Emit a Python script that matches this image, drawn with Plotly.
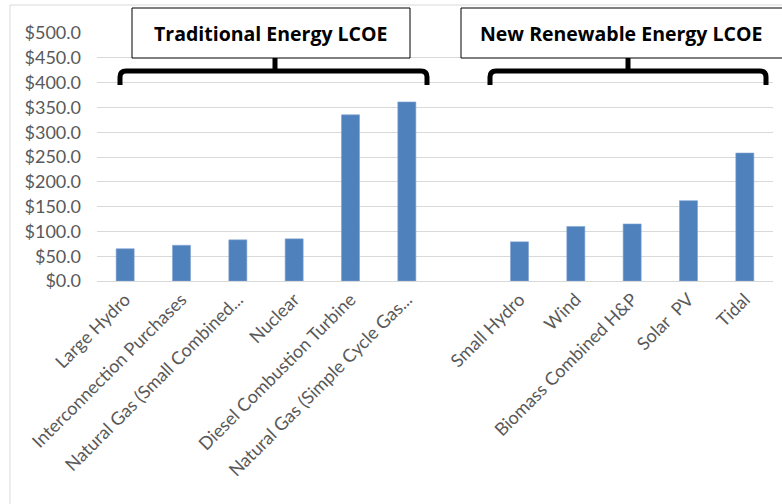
import plotly.graph_objects as go

categories = [
    "Large Hydro",
    "Interconnection Purchases",
    "Natural Gas (Small Combined...",
    "Nuclear",
    "Diesel Combustion Turbine",
    "Natural Gas (Simple Cycle Gas...",
    " ",
    "Small Hydro",
    "Wind",
    "Biomass Combined H&P",
    "Solar  PV",
    "Tidal",
]
lcoe_values = [65, 72, 83, 85, 335, 361, None, 79, 110, 115, 162, 258]
y_ticks = [0, 50, 100, 150, 200, 250, 300, 350, 400, 450, 500]
group_titles = ["Traditional Energy LCOE", "New Renewable Energy LCOE"]

W, H = 782, 504
L, R, T, B = 97, 9, 33, 223
pw, ph = W - L - R, H - T - B


def px_x(x):
    return (x - L) / pw


def px_y(y):
    return (H - B - y) / ph


fig = go.Figure()
fig.add_trace(go.Bar(
    x=categories, y=lcoe_values,
    marker=dict(color="#4f81bd", line=dict(color="#7fa3d1", width=0.6)),
    width=0.32,
))

font_family = "Lato, 'Open Sans', sans-serif"

fig.update_layout(
    width=W, height=H,
    margin=dict(l=L, r=R, t=T, b=B, autoexpand=False),
    paper_bgcolor="white", plot_bgcolor="white",
    showlegend=False,
    font=dict(family=font_family, color="#595959"),
    xaxis=dict(
        type="category", tickangle=-45, tickfont=dict(size=18, color="#595959"),
        showgrid=False, showline=True, linecolor="#d9d9d9", linewidth=1,
        ticks="", range=[-0.5, len(categories) - 0.5],
    ),
    yaxis=dict(
        range=[0, 500], tickvals=y_ticks,
        ticktext=["$" + f"{v:.1f}" for v in y_ticks],
        tickfont=dict(size=18, color="#595959"),
        showgrid=True, gridcolor="#d9d9d9", gridwidth=1,
        zeroline=False, showline=False, ticks="", ticklabelstandoff=15,
    ),
)

shapes = []
# outer chart border
shapes.append(dict(type="rect", xref="paper", yref="paper",
                   x0=px_x(10), x1=px_x(800), y0=px_y(5), y1=px_y(520),
                   line=dict(color="#d9d9d9", width=1), fillcolor="rgba(0,0,0,0)", layer="below"))

boxes = [(132, 410), (461, 795)]
brackets = [(120, 427, 275), (490, 766, 628)]
for (bx0, bx1), title in zip(boxes, group_titles):
    shapes.append(dict(type="rect", xref="paper", yref="paper",
                       x0=px_x(bx0), x1=px_x(bx1), y0=px_y(8), y1=px_y(58),
                       line=dict(color="black", width=1), fillcolor="white", layer="above"))
    cx = (bx0 + 781) / 2 if bx1 > 782 else (bx0 + bx1) / 2
    fig.add_annotation(xref="paper", yref="paper", x=px_x(cx), y=px_y(33),
                       text="<b>" + title + "</b>", showarrow=False,
                       font=dict(size=19.5, color="black", family="'Open Sans', Lato, sans-serif"),
                       xanchor="center", yanchor="middle")

for (x0, x1, xs) in brackets:
    yb, yt, r = 85, 71, 6
    path = (f"M {px_x(x0)},{px_y(yb)} L {px_x(x0)},{px_y(yt + r)} "
            f"Q {px_x(x0)},{px_y(yt)} {px_x(x0 + r)},{px_y(yt)} "
            f"L {px_x(x1 - r)},{px_y(yt)} "
            f"Q {px_x(x1)},{px_y(yt)} {px_x(x1)},{px_y(yt + r)} "
            f"L {px_x(x1)},{px_y(yb)}")
    shapes.append(dict(type="path", xref="paper", yref="paper", path=path,
                       line=dict(color="black", width=5), layer="above"))
    shapes.append(dict(type="line", xref="paper", yref="paper",
                       x0=px_x(xs), x1=px_x(xs), y0=px_y(58), y1=px_y(71),
                       line=dict(color="black", width=5), layer="above"))

fig.update_layout(shapes=shapes)
fig.write_html("out.html")
